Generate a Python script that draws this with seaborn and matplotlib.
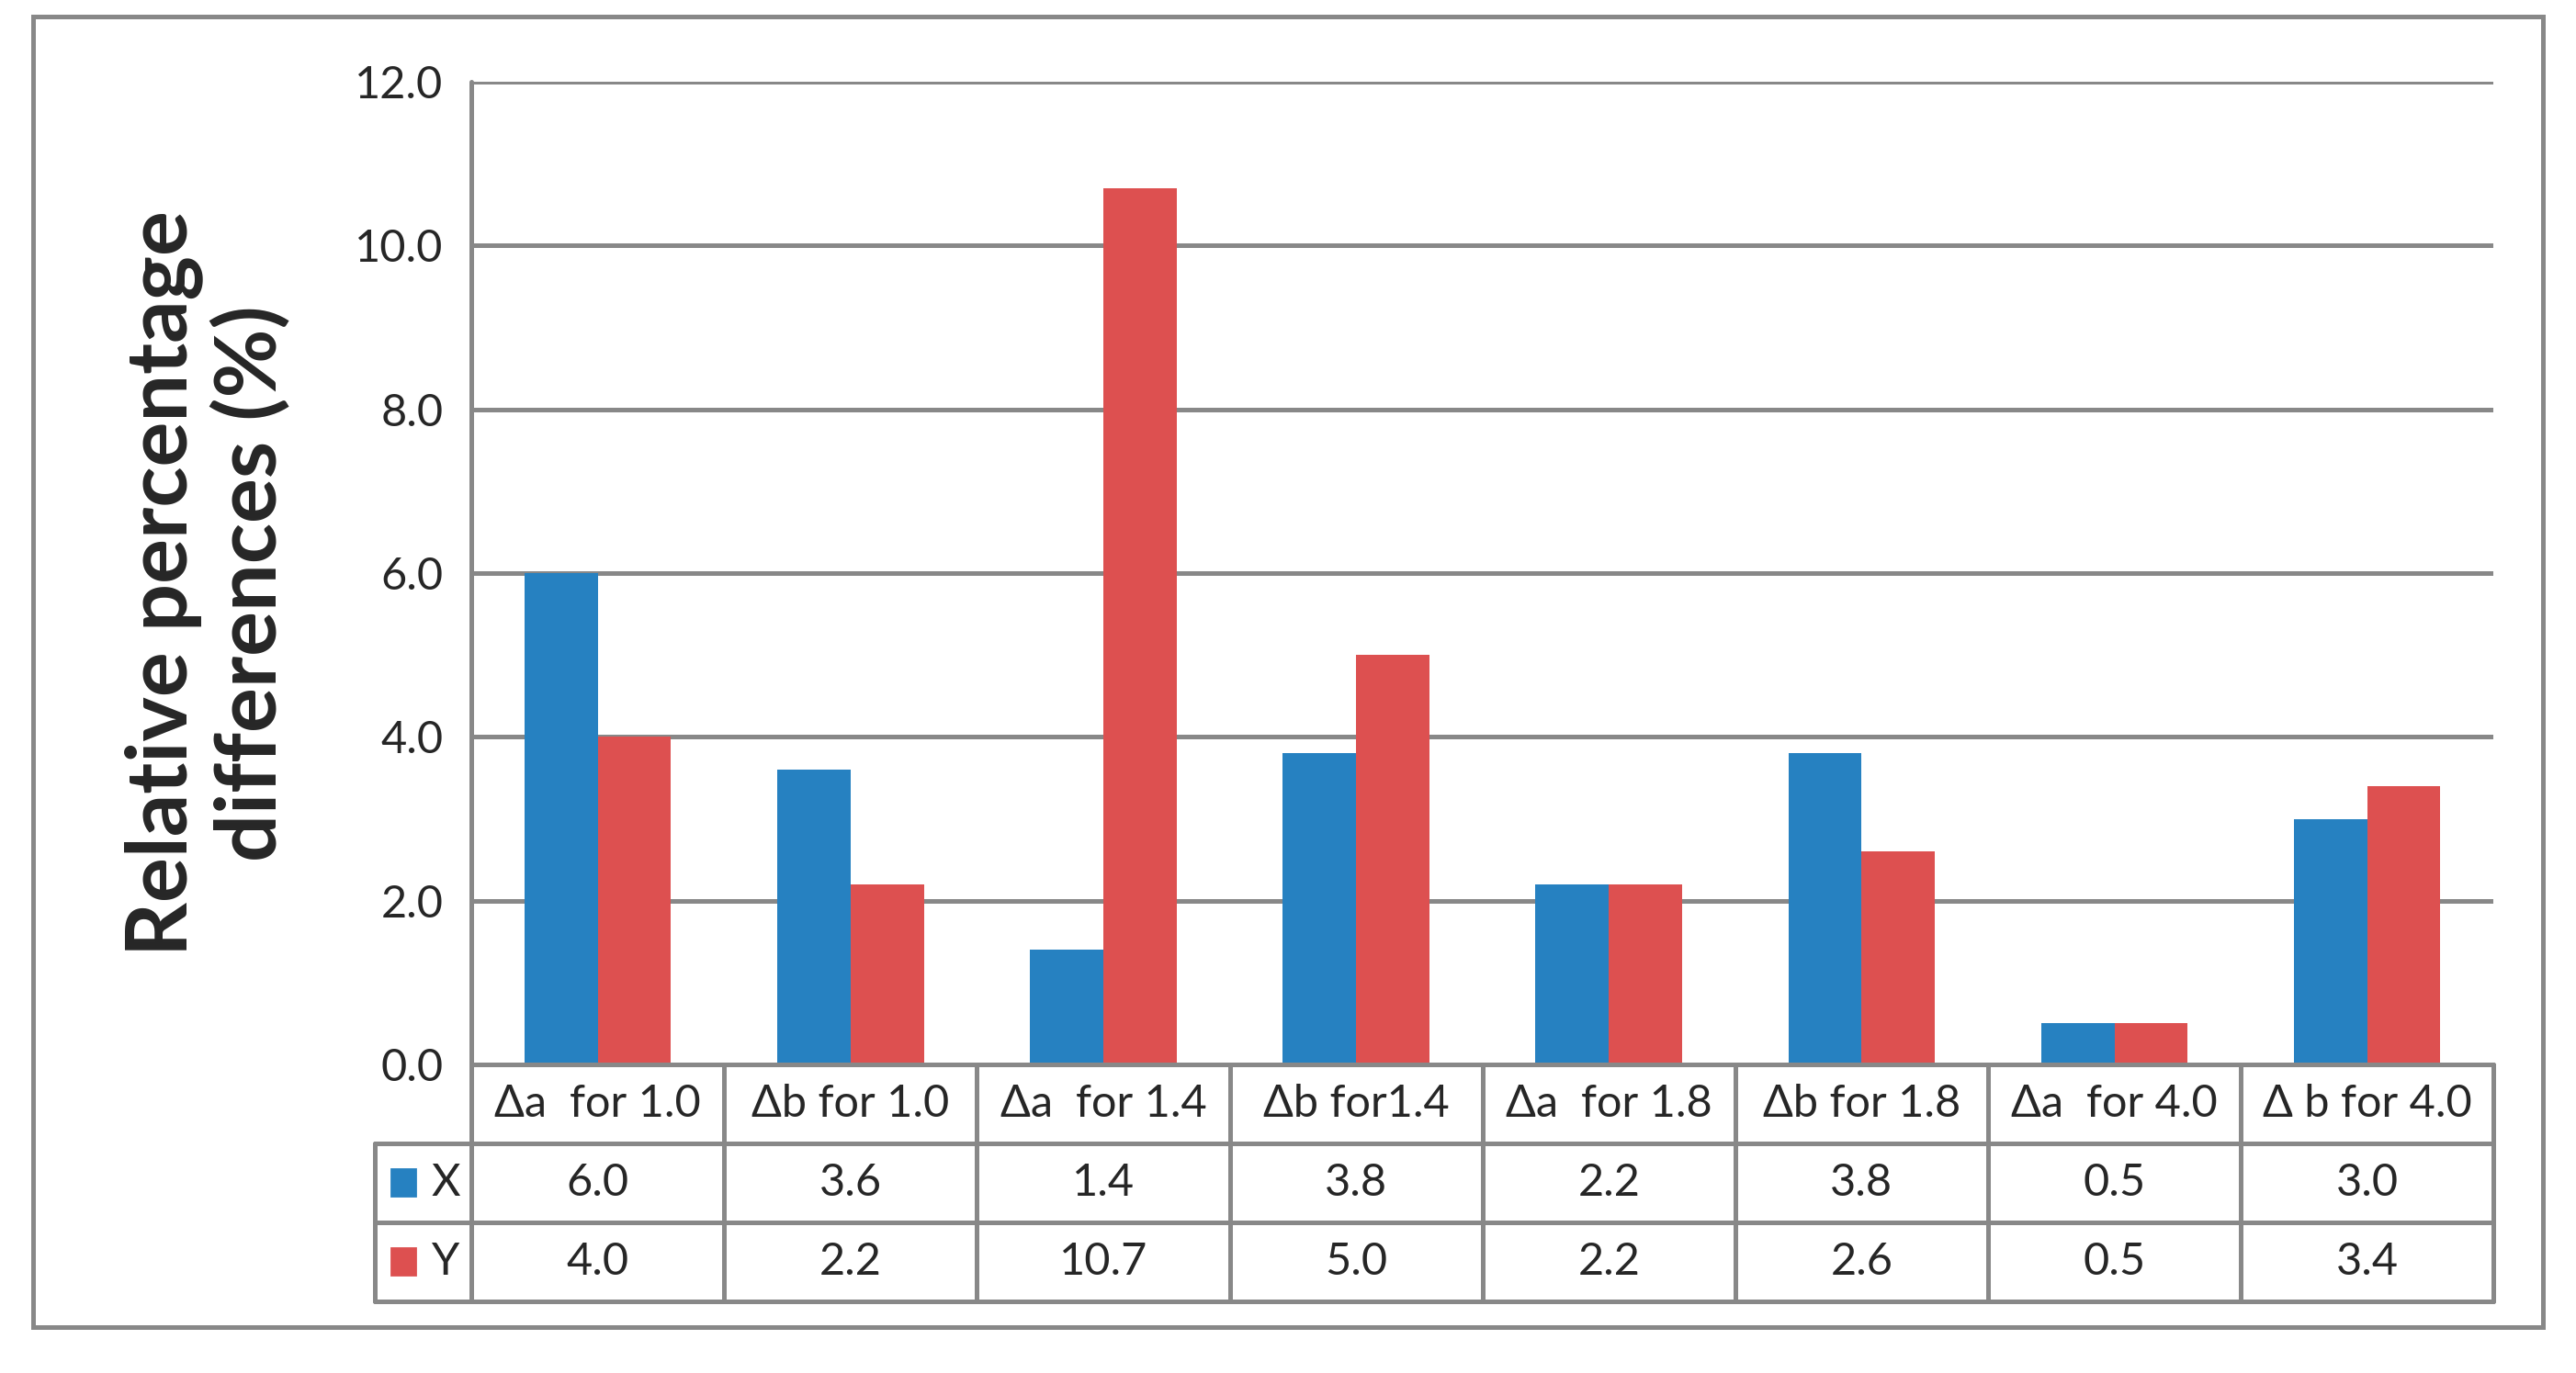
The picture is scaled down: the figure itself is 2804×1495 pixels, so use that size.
import pandas as pd
import seaborn as sns
import matplotlib.pyplot as plt
from matplotlib.patches import Rectangle

# chart data
categories = ["\u0394a  for 1.0", "\u0394b for 1.0", "\u0394a  for 1.4", "\u0394b for1.4",
              "\u0394a  for 1.8", "\u0394b for 1.8", "\u0394a  for 4.0", "\u0394 b for 4.0"]
x_values = [6.0, 3.6, 1.4, 3.8, 2.2, 3.8, 0.5, 3.0]
y_values = [4.0, 2.2, 10.7, 5.0, 2.2, 2.6, 0.5, 3.4]
series = ["X", "Y"]
colors = ["#2681C1", "#DD5050"]
y_ticks = [0.0, 2.0, 4.0, 6.0, 8.0, 10.0, 12.0]

df = pd.DataFrame({
    "category": categories * 2,
    "value": x_values + y_values,
    "series": ["X"] * len(categories) + ["Y"] * len(categories),
})

sns.set_style("white")
plt.rcParams['font.family'] = ['Lato', 'DejaVu Sans']

grey = "#888888"
lw = 1.8
fs = 17.5

fig = plt.figure(figsize=(14.02, 7.475), dpi=200)
ax = fig.add_axes([0.183, 0.2247, 0.785, 0.7158])

sns.barplot(data=df, x="category", y="value", hue="series", order=categories,
            hue_order=series, palette=colors, width=0.58, saturation=1,
            linewidth=0, legend=False, ax=ax, zorder=3)

ax.set_xlim(-0.5, len(categories) - 0.5)
ax.set_ylim(0, 12)
ax.set_yticks(y_ticks)
ax.set_yticklabels([f"{v:.1f}" for v in y_ticks], fontsize=fs)
ax.set_xticks([])
ax.set_xlabel("")
ax.set_ylabel("")
ax.tick_params(axis='y', length=0, pad=11)
for s in ax.spines.values():
    s.set_visible(False)
for v in y_ticks[1:]:
    ax.axhline(v, color=grey, lw=lw, zorder=1)

# data table below the plot
tr = ax.get_xaxis_transform()
rh = 0.0803
rows = [0, -rh, -2 * rh, -3 * rh]
left_col = -0.883
n = len(categories)
ax.plot([-0.5, n - 0.5], [0, 0], color=grey, lw=lw, transform=tr, clip_on=False, zorder=4)
for r in rows[1:]:
    ax.plot([left_col, n - 0.5], [r, r], color=grey, lw=lw, transform=tr, clip_on=False)
ax.plot([-0.5, -0.5], [1, rows[-1]], color=grey, lw=lw, transform=tr, clip_on=False, zorder=4)
ax.plot([left_col, left_col], [rows[1], rows[-1]], color=grey, lw=lw, transform=tr, clip_on=False)
for i in range(1, n + 1):
    ax.plot([i - 0.5, i - 0.5], [0, rows[-1]], color=grey, lw=lw, transform=tr, clip_on=False)

for i, c in enumerate(categories):
    ax.text(i, -rh / 2, c, ha='center', va='center', fontsize=fs, transform=tr)
    ax.text(i, -1.5 * rh, f"{x_values[i]:.1f}", ha='center', va='center', fontsize=fs, transform=tr)
    ax.text(i, -2.5 * rh, f"{y_values[i]:.1f}", ha='center', va='center', fontsize=fs, transform=tr)

for k, (name, col) in enumerate(zip(series, colors)):
    yc = -(1.5 + k) * rh
    ax.add_patch(Rectangle((-0.818, yc - 0.013), 0.097, 0.027, color=col,
                           transform=tr, clip_on=False))
    ax.text(-0.66, yc, name, ha='left', va='center', fontsize=fs, transform=tr)

fig.text(0.0805, 0.575, "Relative percentage\ndifferences (%)", rotation=90,
         ha='center', va='center', fontsize=33, fontweight='bold',
         multialignment='center', linespacing=1.12)

fig.patches.append(Rectangle((0.0128, 0.0335), 0.9745, 0.9545, fill=False,
                             edgecolor=grey, lw=lw, transform=fig.transFigure))

fig.savefig("out.png", dpi=200, facecolor="white")
